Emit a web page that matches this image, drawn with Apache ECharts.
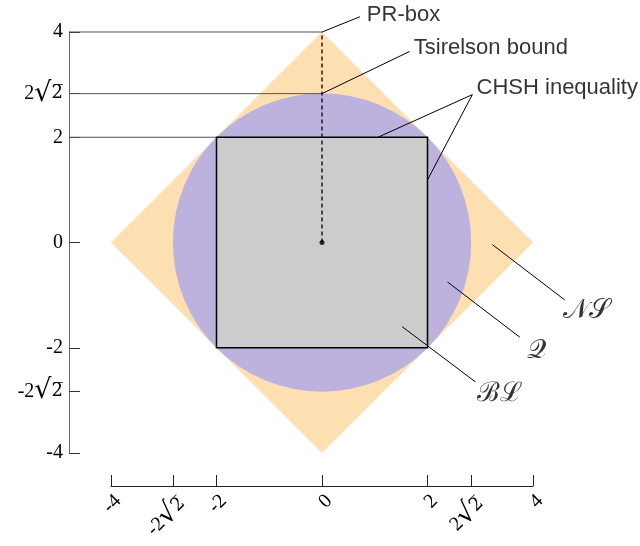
<!DOCTYPE html>
<html><head><meta charset="utf-8">
<script src="https://cdn.jsdelivr.net/npm/echarts@6/dist/echarts.min.js"></script>
<style>html,body{margin:0;padding:0;background:#fff}#c{width:640px;height:546px}</style>
</head><body><div id="c"></div>
<script>
// ---- data ----
const R2 = 2 * Math.SQRT2;
const tickValues = [-4, -R2, -2, 0, 2, R2, 4];
const tickLabels = ['-4', '-2{r|√}{o|2̅}', '-2', '0', '2', '2{r|√}{o|2̅}', '4'];
const nsVertices = [[4, 0], [0, 4], [-4, 0], [0, -4]];
const qCenter = [0, 0];
const qRadius = R2;
const blCorners = [[-2, 2], [2, -2]];
const prLine = [[0, 0], [0, 4]];
const originPoint = [[0, 0]];
const guideLevels = [4, R2, 2];
const guideEndsX = [0, 0, -2];
// annotation leaders (data units: x1, y1, x2, y2) and text anchors
const annotNames = ['PR-box', 'Tsirelson bound', 'CHSH inequality'];
const annotLeaders = [
  [0, 4, 0.72, 4.29],
  [0, R2, 1.66, 3.63],
  [1.06, 2, 2.85, 2.81],
  [2.0, 1.19, 2.85, 2.81]
];
const annotText = [[0.85, 4.33], [1.74, 3.70], [2.93, 2.94]];
const setNames = ['𝒩𝒮', '𝒬', 'ℬℒ'];
const setLeaders = [
  [3.23, -0.04, 4.60, -1.09],
  [2.38, -0.75, 3.75, -1.80],
  [1.52, -1.60, 2.91, -2.65]
];
const setText = [[5.02, -1.30], [4.07, -2.06], [3.36, -2.87]];

// ---- layout ----
const gridL = 111, gridR = 533, gridT = 32, gridB = 453;
const yAxisOffset = 42, xAxisOffset = 33;
const pxPerUnitX = (gridR - gridL) / 8;
const axisDataX = -4 - yAxisOffset / pxPerUnitX;

function fmt(v) {
  for (let i = 0; i < tickValues.length; i++) if (Math.abs(v - tickValues[i]) < 1e-6) return tickLabels[i];
  return '';
}
const serif = 'Liberation Serif';
const sans = 'Liberation Sans';
const richSqrt = {
  r: { fontFamily: 'DejaVu Serif', fontSize: 27, color: '#000' },
  o: { fontFamily: 'DejaVu Serif', fontSize: 18, color: '#000' }
};

function segmentSeries(segs, color, width, z) {
  return {
    type: 'custom', clip: false, z: z, silent: true,
    data: segs,
    renderItem: (p, api) => {
      const a = api.coord([api.value(0), api.value(1)]);
      const b = api.coord([api.value(2), api.value(3)]);
      return { type: 'line', shape: { x1: a[0], y1: a[1], x2: b[0], y2: b[1] },
        style: { stroke: color, lineWidth: width } };
    }
  };
}

const series = [];
// NS diamond
series.push({
  type: 'custom', clip: false, z: 1, data: [[0, 0]],
  renderItem: (p, api) => ({
    type: 'polygon', shape: { points: nsVertices.map(v => api.coord(v)) },
    style: { fill: '#FEDFB2' }
  })
});
// Q circle
series.push({
  type: 'custom', clip: false, z: 2, data: [[0, 0]],
  renderItem: (p, api) => {
    const c = api.coord(qCenter);
    const r = api.size([qRadius, 0])[0];
    return { type: 'circle', shape: { cx: c[0], cy: c[1], r: r }, style: { fill: '#BDB2DE' } };
  }
});
// BL square
series.push({
  type: 'custom', clip: false, z: 3, data: [[0, 0]],
  renderItem: (p, api) => {
    const a = api.coord(blCorners[0]), b = api.coord(blCorners[1]);
    return { type: 'rect', shape: { x: a[0], y: a[1], width: b[0] - a[0], height: b[1] - a[1] },
      style: { fill: '#CCCCCC', stroke: '#000', lineWidth: 1.5 } };
  }
});
// guide lines
series.push(segmentSeries(guideLevels.map((lv, i) => [axisDataX, lv, guideEndsX[i], lv]), '#555', 1, 4));
// dashed PR line
series.push({ type: 'line', clip: false, z: 5, symbol: 'none', data: prLine,
  lineStyle: { color: '#000', width: 1.3, type: [4, 3] } });
series.push({ type: 'scatter', z: 6, data: originPoint, symbolSize: 5, itemStyle: { color: '#000' } });
// annotation leaders
series.push(segmentSeries(annotLeaders, '#000', 1, 6));
series.push(segmentSeries(setLeaders, '#000', 1, 6));
// annotation texts
series.push({ type: 'scatter', z: 7, symbolSize: 0, clip: false,
  data: annotText.map((p, i) => ({ value: p, name: annotNames[i] })),
  label: { show: true, position: [0, 0], align: 'left', verticalAlign: 'middle',
    formatter: q => q.name, fontFamily: sans, fontSize: 22, color: '#000' } });
series.push({ type: 'scatter', z: 7, symbolSize: 0, clip: false,
  data: setText.map((p, i) => ({ value: p, name: setNames[i] })),
  label: { show: true, position: [0, 0], align: 'center', verticalAlign: 'middle',
    formatter: q => q.name, fontFamily: 'DejaVu Serif', fontSize: 27, color: '#000' } });

const chart = echarts.init(document.getElementById('c'), null, { renderer: 'canvas' });
chart.setOption({
  animation: false,
  backgroundColor: '#fff',
  grid: { left: gridL, right: 640 - gridR, top: gridT, bottom: 546 - gridB },
  xAxis: {
    type: 'value', min: -4, max: 4, position: 'bottom', offset: xAxisOffset,
    splitLine: { show: false },
    axisLine: { show: true, onZero: false, lineStyle: { color: '#222', width: 1 } },
    axisTick: { show: true, inside: true, length: 11, customValues: tickValues, lineStyle: { color: '#222' } },
    axisLabel: { customValues: tickValues, formatter: fmt, rotate: 45, margin: 5, verticalAlign: 'top',
      fontFamily: serif, fontSize: 20, color: '#000', rich: richSqrt }
  },
  yAxis: {
    type: 'value', min: -4, max: 4, position: 'left', offset: yAxisOffset,
    splitLine: { show: false },
    axisLine: { show: true, onZero: false, lineStyle: { color: '#666', width: 1 } },
    axisTick: { show: true, inside: true, length: 11, customValues: tickValues, lineStyle: { color: '#333' } },
    axisLabel: { customValues: tickValues, formatter: fmt, margin: 6,
      fontFamily: serif, fontSize: 20, color: '#000', rich: richSqrt }
  },
  series: series
});
</script></body></html>
